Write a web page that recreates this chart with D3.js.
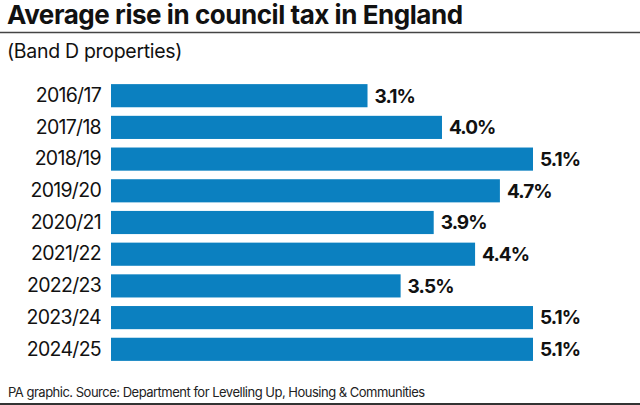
<!DOCTYPE html>
<html><head><meta charset="utf-8">
<script src="https://cdn.jsdelivr.net/npm/d3@7"></script>
<style>body{margin:0;background:#fff}svg{display:block}</style>
</head><body>
<script>
const categories = ["2016/17","2017/18","2018/19","2019/20","2020/21","2021/22","2022/23","2023/24","2024/25"];
const values = [3.1,4.0,5.1,4.7,3.9,4.4,3.5,5.1,5.1];
const title = "Average rise in council tax in England";
const subtitle = "(Band D properties)";
const source = "PA graphic. Source: Department for Levelling Up, Housing & Communities";

const W=640,H=405;
const svg=d3.select("body").append("svg").attr("width",W).attr("height",H);
const font="Inter, 'Helvetica Neue', Arial, sans-serif";

svg.append("text").attr("x",7).attr("y",24).attr("font-family",font).attr("font-weight",700)
  .attr("font-size",26).attr("letter-spacing",-0.45).attr("fill","#111").text(title);
svg.append("line").attr("x1",0).attr("x2",W).attr("y1",32.5).attr("y2",32.5).attr("stroke","#444").attr("stroke-width",1.5);
svg.append("text").attr("x",7).attr("y",58).attr("font-family",font).attr("font-size",19.5)
  .attr("letter-spacing",-0.3).attr("fill","#111").text(subtitle);

const x=d3.scaleLinear().domain([0,5.1]).range([111,533]);
const y=d3.scaleBand().domain(categories).range([80,365]).paddingInner(0.27).paddingOuter(0.13);

const g=svg.append("g");
g.selectAll("rect").data(values).join("rect")
  .attr("x",x(0)).attr("y",(d,i)=>y(categories[i]))
  .attr("width",d=>x(d)-x(0)).attr("height",y.bandwidth()).attr("fill","#0b80c0");

const yAxis=d3.axisLeft(y).tickSize(0).tickPadding(10);
const ag=svg.append("g").attr("transform",`translate(${x(0)},0)`).call(yAxis);
ag.select(".domain").remove();
ag.selectAll("text").attr("font-family",font).attr("font-size",19.5).attr("letter-spacing",-0.7).attr("fill","#111");

g.selectAll("text.v").data(values).join("text").attr("class","v")
  .attr("x",d=>x(d)+7).attr("y",(d,i)=>y(categories[i])+y.bandwidth()/2).attr("dy","0.36em")
  .attr("font-family",font).attr("font-weight",700).attr("font-size",19).attr("letter-spacing",-0.9)
  .attr("fill","#111").text(d=>d.toFixed(1)+"%");

svg.append("text").attr("x",8).attr("y",397).attr("font-family",font).attr("font-size",13)
  .attr("letter-spacing",-0.5).attr("fill","#222").text(source);
svg.append("line").attr("x1",0).attr("x2",W).attr("y1",404).attr("y2",404).attr("stroke","#333").attr("stroke-width",2);
</script>
</body></html>
